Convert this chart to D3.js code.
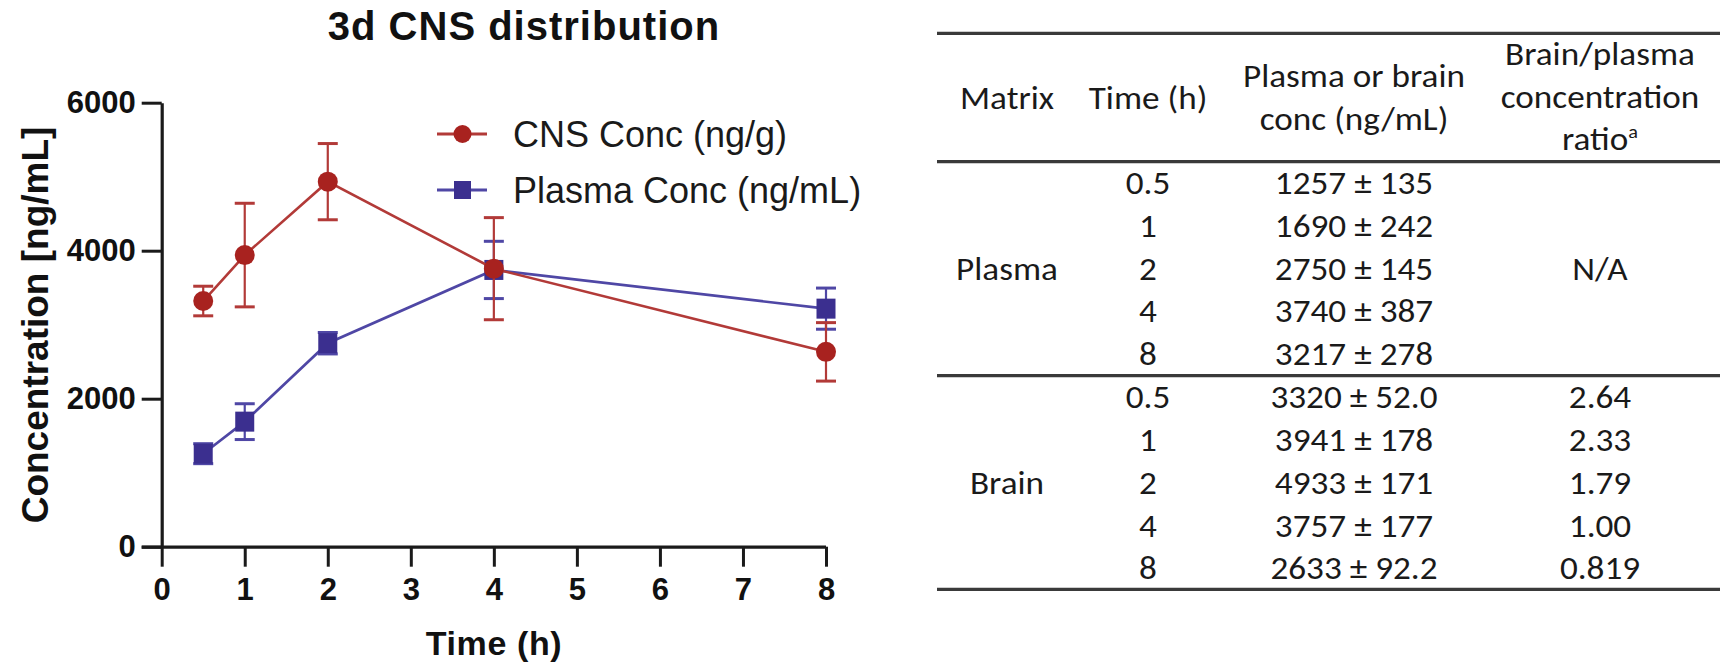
<!DOCTYPE html>
<html>
<head>
<meta charset="utf-8">
<script src="https://cdn.jsdelivr.net/npm/d3@7"></script>
<style>
  html, body { margin: 0; padding: 0; background: #fff; }
  svg { display: block; }
</style>
</head>
<body>
<svg id="chart" width="1723" height="670"></svg>
<script>
// ---------- data ----------
const times = [0.5, 1, 2, 4, 8];
const cnsMean = [3320, 3941, 4933, 3757, 2633];
const cnsErr = [200, 700, 515, 690, 395];        // error bars as drawn in the chart
const plasmaMean = [1257, 1690, 2750, 3740, 3217];
const plasmaErr = [135, 242, 145, 387, 278];
const xTicks = [0, 1, 2, 3, 4, 5, 6, 7, 8];
const yTicks = [0, 2000, 4000, 6000];
const seriesNames = ["CNS Conc (ng/g)", "Plasma Conc (ng/mL)"];

const tableTimes = ["0.5", "1", "2", "4", "8"];
const plasmaConcText = ["1257 ± 135", "1690 ± 242", "2750 ± 145", "3740 ± 387", "3217 ± 278"];
const brainConcText = ["3320 ± 52.0", "3941 ± 178", "4933 ± 171", "3757 ± 177", "2633 ± 92.2"];
const brainRatioText = ["2.64", "2.33", "1.79", "1.00", "0.819"];

// ---------- setup ----------
const svg = d3.select("#chart");
const RED = "#a8221f", RED_LINE = "#b23a38";
const BLUE = "#3b2f8f", BLUE_LINE = "#4f47a5";
const chartFont = "'Liberation Sans', Arial, Helvetica, sans-serif";
const tableFont = "Carlito, Calibri, Lato, 'Open Sans', sans-serif";

const x = d3.scaleLinear().domain([0, 8]).range([161.7, 826]);
const y = d3.scaleLinear().domain([0, 6000]).range([546.7, 102.7]);

// title
svg.append("text")
  .attr("x", 524).attr("y", 39.5)
  .attr("text-anchor", "middle")
  .style("font-family", chartFont).style("font-weight", "bold")
  .style("font-size", "40px").style("letter-spacing", "1px")
  .attr("fill", "#111")
  .text("3d CNS distribution");

// axes
const yAxis = d3.axisLeft(y).tickValues(yTicks).tickSize(20).tickSizeOuter(0).tickPadding(6).tickFormat(d3.format("d"));
const xAxis = d3.axisBottom(x).tickValues(xTicks).tickSize(20).tickSizeOuter(0).tickPadding(11).tickFormat(d3.format("d"));

const gy = svg.append("g").attr("transform", `translate(${x(0)},0)`).call(yAxis);
const gx = svg.append("g").attr("transform", `translate(0,${y(0)})`).call(xAxis);
[gx, gy].forEach(g => {
  g.select(".domain").attr("stroke", "#1a1a1a").attr("stroke-width", 3.2);
  g.selectAll(".tick line").attr("stroke", "#1a1a1a").attr("stroke-width", 3);
  g.selectAll(".tick text")
    .style("font-family", chartFont).style("font-weight", "bold")
    .style("font-size", "31px").attr("fill", "#111");
});
gx.select(".domain").attr("d", `M${x(0) - 20},0.5H${x(8)}`);

// axis titles
svg.append("text")
  .attr("transform", `translate(48,325) rotate(-90)`)
  .attr("text-anchor", "middle")
  .style("font-family", chartFont).style("font-weight", "bold")
  .style("font-size", "37px").attr("fill", "#111")
  .text("Concentration [ng/mL]");

svg.append("text")
  .attr("x", 494).attr("y", 655)
  .attr("text-anchor", "middle")
  .style("font-family", chartFont).style("font-weight", "bold")
  .style("font-size", "34px").style("letter-spacing", "0.6px").attr("fill", "#111")
  .text("Time (h)");

// ---------- series ----------
function drawSeries(mean, err, lineColor, color, shape) {
  const pts = times.map((t, i) => ({ t, m: mean[i], e: err[i] }));
  const g = svg.append("g");
  g.append("path")
    .datum(pts)
    .attr("fill", "none").attr("stroke", lineColor).attr("stroke-width", 2.6)
    .attr("d", d3.line().x(d => x(d.t)).y(d => y(d.m)));
  const eb = g.selectAll(".eb").data(pts).enter().append("g").attr("stroke", lineColor).attr("stroke-width", 2.2);
  eb.append("line").attr("x1", d => x(d.t)).attr("x2", d => x(d.t))
    .attr("y1", d => y(d.m + d.e)).attr("y2", d => y(d.m - d.e));
  eb.append("line").attr("x1", d => x(d.t) - 10).attr("x2", d => x(d.t) + 10)
    .attr("y1", d => y(d.m + d.e)).attr("y2", d => y(d.m + d.e)).attr("stroke-width", 3);
  eb.append("line").attr("x1", d => x(d.t) - 10).attr("x2", d => x(d.t) + 10)
    .attr("y1", d => y(d.m - d.e)).attr("y2", d => y(d.m - d.e)).attr("stroke-width", 3);
  if (shape === "circle") {
    g.selectAll(".mk").data(pts).enter().append("circle")
      .attr("cx", d => x(d.t)).attr("cy", d => y(d.m)).attr("r", 10).attr("fill", color);
  } else {
    g.selectAll(".mk").data(pts).enter().append("rect")
      .attr("x", d => x(d.t) - 9.5).attr("y", d => y(d.m) - 10)
      .attr("width", 19).attr("height", 20).attr("fill", color);
  }
}
drawSeries(plasmaMean, plasmaErr, BLUE_LINE, BLUE, "square");
drawSeries(cnsMean, cnsErr, RED_LINE, RED, "circle");

// ---------- legend ----------
const legendRows = [
  { name: seriesNames[0], color: RED, line: RED_LINE, shape: "circle", cy: 134 },
  { name: seriesNames[1], color: BLUE, line: BLUE_LINE, shape: "square", cy: 190 }
];
const lg = svg.append("g");
legendRows.forEach(r => {
  lg.append("line").attr("x1", 437).attr("x2", 487).attr("y1", r.cy).attr("y2", r.cy)
    .attr("stroke", r.line).attr("stroke-width", 2.8);
  if (r.shape === "circle") lg.append("circle").attr("cx", 462.5).attr("cy", r.cy).attr("r", 9).attr("fill", r.color);
  else lg.append("rect").attr("x", 454).attr("y", r.cy - 9).attr("width", 17).attr("height", 18).attr("fill", r.color);
  lg.append("text").attr("x", 513).attr("y", r.cy + 12.5)
    .style("font-family", chartFont).style("font-size", "36px").attr("fill", "#1a1a1a")
    .text(r.name);
});

// ---------- table ----------
const tg = svg.append("g");
const ruleX = [937, 1720];
[33.3, 161.7, 375.7, 589.3].forEach(ry => {
  tg.append("line").attr("x1", ruleX[0]).attr("x2", ruleX[1]).attr("y1", ry).attr("y2", ry)
    .attr("stroke", "#3a3a3a").attr("stroke-width", 3.2);
});
const colX = [1007, 1148, 1354, 1600];
const tTexts = [];
function tText(cx, by, str) {
  const t = tg.append("text").attr("x", 0).attr("y", 0)
    .attr("text-anchor", "middle")
    .style("font-family", tableFont).style("font-size", "33px").attr("fill", "#1a1a1a")
    .text(str);
  tTexts.push({ t, cx, by });
  return t;
}
tText(colX[0], 109, "Matrix");
tText(colX[1], 109, "Time (h)");
tText(colX[2], 87, "Plasma or brain");
tText(colX[2], 130, "conc (ng/mL)");
tText(colX[3], 65, "Brain/plasma");
tText(colX[3], 107.5, "concentration");
const rt = tText(colX[3], 150, "ratio");
rt.append("tspan").attr("baseline-shift", "super").style("font-size", "19px").text("a");

const rowStep = 42.75;
tableTimes.forEach((tm, i) => {
  const bp = 194 + i * rowStep;
  const bb = 408.3 + i * rowStep;
  tText(colX[1], bp, tm);
  tText(colX[2], bp, plasmaConcText[i]);
  tText(colX[1], bb, tm);
  tText(colX[2], bb, brainConcText[i]);
  tText(colX[3], bb, brainRatioText[i]);
});
tText(colX[0], 194 + 2 * rowStep, "Plasma");
tText(colX[3], 194 + 2 * rowStep, "N/A");
tText(colX[0], 408.3 + 2 * rowStep, "Brain");

const ref = tTexts[0].t.node().getComputedTextLength();
const sx = Math.min(1.15, Math.max(0.75, 94 / ref));
tTexts.forEach(o => o.t.attr("transform", `translate(${o.cx},${o.by}) scale(${sx},1)`));
</script>
</body>
</html>
